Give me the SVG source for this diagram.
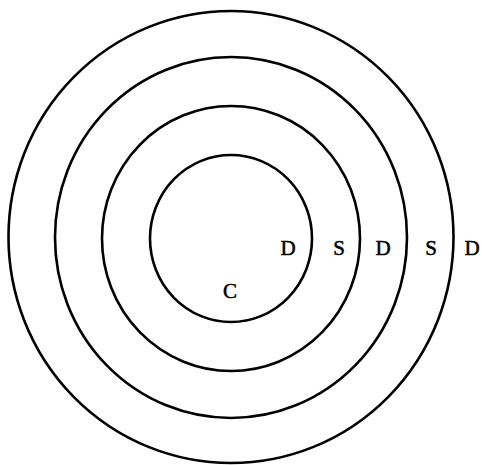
<svg xmlns="http://www.w3.org/2000/svg" width="482" height="465" viewBox="0 0 482 465">
<style>
.ring{fill:none;stroke:#000;stroke-width:2.6}
.lbl{font-family:"Liberation Serif",serif;font-size:21px;fill:#000;stroke:#000;stroke-width:0.5;text-anchor:middle}
</style>
<rect width="482" height="465" fill="#fff"/>
<g id="ring4"><ellipse class="ring" cx="231" cy="237" rx="222.5" ry="226"/></g>
<g id="ring3"><ellipse class="ring" cx="231" cy="237.5" rx="176" ry="180.5"/></g>
<g id="ring2"><ellipse class="ring" cx="231" cy="238.5" rx="129" ry="132.5"/></g>
<g id="ring1"><ellipse class="ring" cx="231" cy="238.5" rx="81" ry="83.5"/></g>
<g id="labels">
<text class="lbl" x="288" y="255">D</text>
<text class="lbl" x="339" y="255">S</text>
<text class="lbl" x="383" y="255">D</text>
<text class="lbl" x="431" y="255">S</text>
<text class="lbl" x="472" y="255">D</text>
<text class="lbl" x="230" y="298">C</text>
</g>
</svg>
